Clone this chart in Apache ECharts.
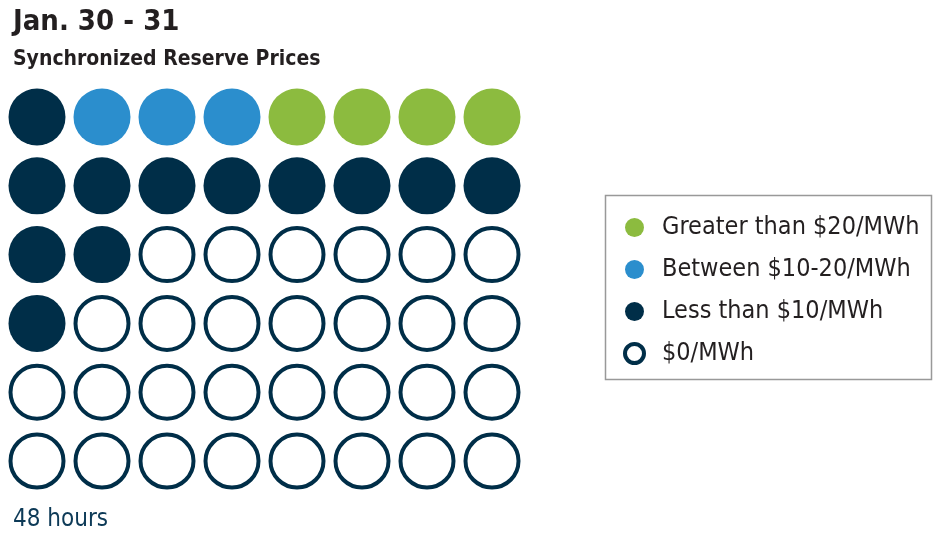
<!DOCTYPE html>
<html>
<head>
<meta charset="utf-8">
<script src="https://cdn.jsdelivr.net/npm/echarts@6/dist/echarts.min.js"></script>
<style>
  html, body { margin: 0; padding: 0; background: #fff; }
  #chart { width: 933px; height: 535px; }
</style>
</head>
<body>
<div id="chart"></div>
<script>
// price bands, legend order
var bands = ['Greater than $20/MWh', 'Between $10-20/MWh', 'Less than $10/MWh', '$0/MWh'];
var bandColors = ['#8cbb3f', '#2b8ecd', '#002e48', '#002e48'];

// band index for each of the 48 hours, 8 per row
var hourBands = [
    2, 1, 1, 1, 0, 0, 0, 0,
    2, 2, 2, 2, 2, 2, 2, 2,
    2, 2, 3, 3, 3, 3, 3, 3,
    2, 3, 3, 3, 3, 3, 3, 3,
    3, 3, 3, 3, 3, 3, 3, 3,
    3, 3, 3, 3, 3, 3, 3, 3
];
var perRow = 8;

var font = '"Liberation Sans Narrow", "DejaVu Sans Condensed", "Roboto Condensed", "Liberation Sans", sans-serif';

var chart = echarts.init(document.getElementById('chart'));

var series = bands.map(function (name, b) {
    var pts = [];
    hourBands.forEach(function (v, i) {
        if (v === b) pts.push([i % perRow, Math.floor(i / perRow)]);
    });
    var hollow = b === 3;
    return {
        name: name,
        type: 'scatter',
        data: pts,
        symbol: 'circle',
        symbolSize: hollow ? 53 : 57,
        itemStyle: hollow
            ? { color: '#fff', borderColor: bandColors[b], borderWidth: 4, opacity: 1 }
            : { color: bandColors[b], opacity: 1 },
        emphasis: { disabled: true },
        silent: true
    };
});

var option = {
    animation: false,
    title: [
        {
            text: 'Jan. 30 - 31',
            left: 8, top: 3,
            textStyle: { fontFamily: font, fontSize: 29, fontWeight: 'bold', color: '#231f20' }
        },
        {
            text: 'Synchronized Reserve Prices',
            left: 8, top: 44,
            textStyle: { fontFamily: font, fontSize: 21, fontWeight: 'bold', color: '#231f20' }
        },
        {
            text: '48 hours',
            left: 8, top: 503,
            textStyle: { fontFamily: font, fontSize: 24, fontWeight: 'normal', color: '#0d3a57' }
        }
    ],
    grid: { left: 37, top: 117, width: 455, height: 344 },
    xAxis: { type: 'value', min: 0, max: perRow - 1, show: false },
    yAxis: { type: 'value', min: 0, max: 5, inverse: true, show: false },
    legend: {
        orient: 'vertical',
        left: 618, top: 210,
        itemWidth: 19, itemHeight: 19,
        itemGap: 17,
        icon: 'circle',
        selectedMode: false,
        data: bands.map(function (name, b) {
            return b === 3
                ? { name: name, itemStyle: { color: '#fff', borderColor: bandColors[b], borderWidth: 4, opacity: 1 } }
                : { name: name, itemStyle: { color: bandColors[b], borderWidth: 0, opacity: 1 } };
        }),
        textStyle: { fontFamily: font, fontSize: 25, color: '#231f20', lineHeight: 25, padding: [0, 0, 0, 13] }
    },
    graphic: [
        {
            type: 'rect',
            shape: { x: 605.5, y: 195.5, width: 326, height: 184 },
            style: { fill: 'none', stroke: '#999', lineWidth: 1.5 },
            silent: true
        }
    ],
    series: series
};

chart.setOption(option);
</script>
</body>
</html>
